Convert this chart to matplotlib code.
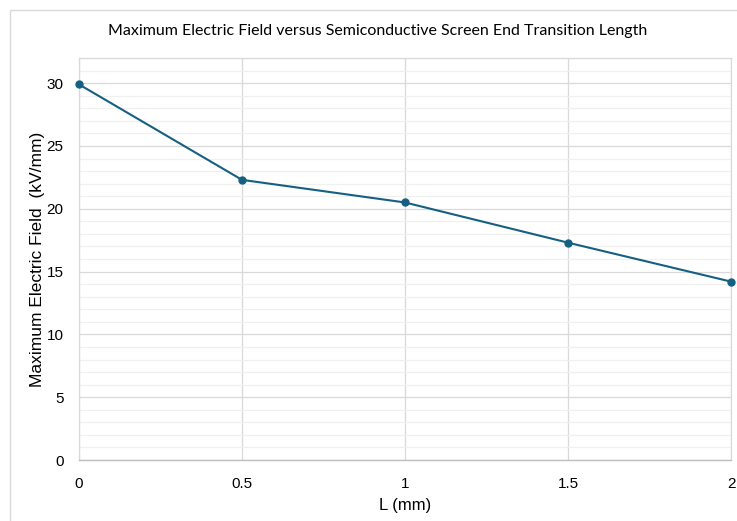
import matplotlib
matplotlib.use("Agg")
import matplotlib.pyplot as plt
from matplotlib.patches import Rectangle
from matplotlib.ticker import MultipleLocator

# data
length_mm = [0, 0.5, 1, 1.5, 2]
max_field = [29.9, 22.3, 20.5, 17.3, 14.2]
x_ticks = [0, 0.5, 1, 1.5, 2]
x_tick_labels = ["0", "0.5", "1", "1.5", "2"]
y_ticks = [0, 5, 10, 15, 20, 25, 30]

line_color = "#156082"
plt.rcParams["font.family"] = ["Liberation Sans", "DejaVu Sans"]

fig = plt.figure(figsize=(7.37, 5.21), dpi=100)

# chart area border
fig.patches.append(Rectangle((10 / 737, -0.02), 1.0, 1 - 10 / 521 + 0.02,
                             transform=fig.transFigure, fill=False,
                             edgecolor="#d9d9d9", linewidth=1.0))

ax = fig.add_axes([79 / 737, 1 - 460 / 521, (731 - 79) / 737, (460 - 58) / 521])

ax.plot(length_mm, max_field, color=line_color, linewidth=1.5,
        marker="o", markersize=5, zorder=3, clip_on=False)

ax.set_xlim(0, 2)
ax.set_ylim(0, 32)
ax.set_xticks(x_ticks)
ax.set_xticklabels(x_tick_labels)
ax.set_yticks(y_ticks)
ax.yaxis.set_minor_locator(MultipleLocator(1))

ax.grid(which="major", axis="both", color="#d9d9d9", linewidth=0.9)
ax.grid(which="minor", axis="y", color="#f0f0f0", linewidth=0.9)
ax.set_axisbelow(True)

for side in ["top", "right", "left"]:
    ax.spines[side].set_color("#d9d9d9")
    ax.spines[side].set_linewidth(0.9)
ax.spines["bottom"].set_color("#bfbfbf")
ax.spines["bottom"].set_linewidth(1.0)

ax.tick_params(which="both", length=0, labelsize=11, colors="#000000")
ax.tick_params(axis="x", pad=12)
ax.tick_params(axis="y", pad=11)

ax.set_xlabel("L (mm)", fontsize=12, labelpad=5)
ax.set_ylabel("Maximum Electric Field  (kV/mm)", fontsize=12.5, labelpad=1)

fig.text(378 / 737, 1 - 31 / 521,
         "Maximum Electric Field versus Semiconductive Screen End Transition Length",
         ha="center", va="center", fontsize=11.5, family=["Lato", "DejaVu Sans"])

fig.savefig("out.png", dpi=100)
